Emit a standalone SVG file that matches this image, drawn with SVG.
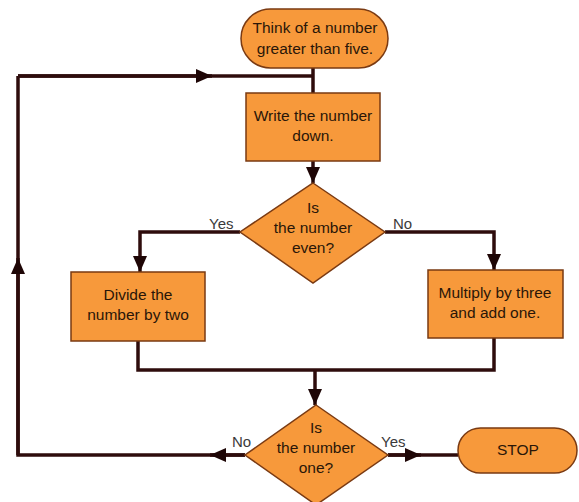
<svg xmlns="http://www.w3.org/2000/svg" width="579" height="502" viewBox="0 0 579 502">
<style>
.shape{fill:#f7993b;stroke:#7a3a12;stroke-width:1.5}
.t{font-family:"Liberation Sans",Arial,sans-serif;font-size:15.5px;fill:#2a1608;text-anchor:middle}
.lbl{font-family:"Liberation Sans",Arial,sans-serif;font-size:15px;fill:#3a3a3a}
.c{fill:none;stroke:#2e0c0c;stroke-width:3.5}
</style>
<defs>
<marker id="ah" markerUnits="userSpaceOnUse" markerWidth="16" markerHeight="14" refX="16" refY="7" orient="auto">
<path d="M0,0 L16,7 L0,14 z" fill="#1e0606"/>
</marker>
</defs>
<rect width="579" height="502" fill="#ffffff"/>
<g id="connectors">
<path class="c" d="M313,68 V93"/>
<path class="c" d="M313,76 H18"/>
<path class="c" d="M18,76 H212" marker-end="url(#ah)"/>
<path class="c" d="M313,161 V183" marker-end="url(#ah)"/>
<path class="c" d="M240,232 H140 V272" marker-end="url(#ah)"/>
<path class="c" d="M385,232 H494 V270" marker-end="url(#ah)"/>
<path class="c" d="M138,341 V370 H494 V338"/>
<path class="c" d="M315,370 V405" marker-end="url(#ah)"/>
<path class="c" d="M245,455 H18 V76"/>
<path class="c" d="M245,455 H210" marker-end="url(#ah)"/>
<path class="c" d="M18,455 V258" marker-end="url(#ah)"/>
<path class="c" d="M388,455 H458"/>
<path class="c" d="M388,455 H421" marker-end="url(#ah)"/>
<text class="lbl" x="209" y="229">Yes</text>
<text class="lbl" x="393" y="229">No</text>
<text class="lbl" x="232" y="447">No</text>
<text class="lbl" x="381" y="447">Yes</text>
</g>
<g id="start">
<rect class="shape" x="241" y="9" width="147" height="59" rx="29.5"/>
<text class="t" x="315" y="33">Think of a number</text>
<text class="t" x="315" y="54">greater than five.</text>
</g>
<g id="write">
<rect class="shape" x="246" y="93" width="134" height="68"/>
<text class="t" x="313" y="121">Write the number</text>
<text class="t" x="313" y="141">down.</text>
</g>
<g id="even">
<path class="shape" d="M313,183 L385,232 L313,283 L240,232 Z"/>
<text class="t" x="313" y="213">Is</text>
<text class="t" x="313" y="233">the number</text>
<text class="t" x="313" y="253">even?</text>
</g>
<g id="divide">
<rect class="shape" x="71" y="272" width="134" height="69"/>
<text class="t" x="138" y="300">Divide the</text>
<text class="t" x="138" y="320">number by two</text>
</g>
<g id="multiply">
<rect class="shape" x="428" y="270" width="135" height="68"/>
<text class="t" x="495" y="298">Multiply by three</text>
<text class="t" x="495" y="318">and add one.</text>
</g>
<g id="one">
<path class="shape" d="M316,405 L388,455 L316,505 L245,455 Z"/>
<text class="t" x="316" y="433">Is</text>
<text class="t" x="316" y="453">the number</text>
<text class="t" x="316" y="473">one?</text>
</g>
<g id="stop">
<rect class="shape" x="458" y="428" width="119" height="45" rx="22.5"/>
<text class="t" x="518" y="455">STOP</text>
</g>
</svg>
